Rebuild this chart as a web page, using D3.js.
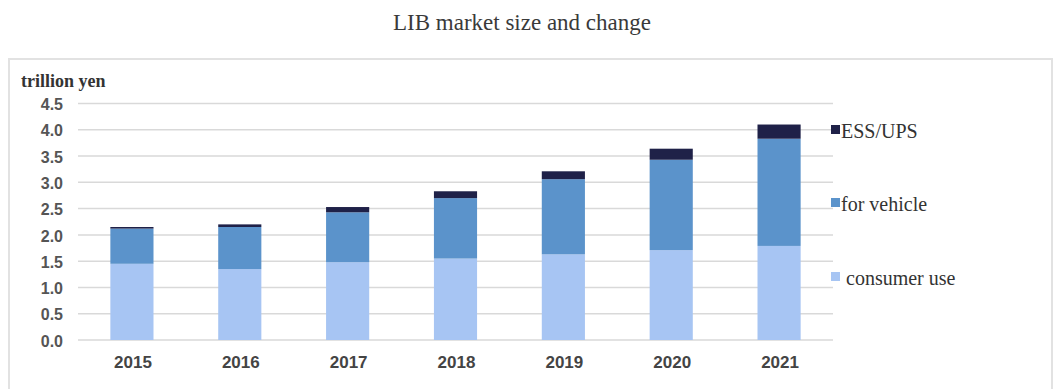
<!DOCTYPE html>
<html>
<head>
<meta charset="utf-8">
<script src="https://cdn.jsdelivr.net/npm/d3@7"></script>
<style>
  html, body { margin: 0; padding: 0; background: #ffffff; }
  svg { display: block; }
</style>
</head>
<body>
<svg id="chart" width="1054" height="389"></svg>
<script>
// LIB market size by application, trillion yen
const years = ["2015", "2016", "2017", "2018", "2019", "2020", "2021"];
const consumerUse = [1.45, 1.35, 1.48, 1.55, 1.63, 1.71, 1.79];
const forVehicle  = [0.67, 0.80, 0.95, 1.15, 1.43, 1.72, 2.04];
const essUps      = [0.03, 0.05, 0.10, 0.13, 0.15, 0.21, 0.27];
const yTicks = [0, 0.5, 1.0, 1.5, 2.0, 2.5, 3.0, 3.5, 4.0, 4.5];

const seriesKeys = ["consumer", "vehicle", "ess"];
const seriesNames = { consumer: " consumer use", vehicle: "for vehicle", ess: "ESS/UPS" };
const seriesColors = { consumer: "#a7c5f3", vehicle: "#5b93cb", ess: "#1f2148" };

const rows = years.map((y, i) => ({
  year: y, consumer: consumerUse[i], vehicle: forVehicle[i], ess: essUps[i]
}));

const svg = d3.select("#chart");

// outer frame
svg.append("rect")
  .attr("x", 9).attr("y", 59).attr("width", 1043).attr("height", 340)
  .attr("fill", "none").attr("stroke", "#e2e2e2").attr("stroke-width", 2);

// title
svg.append("text")
  .attr("x", 522).attr("y", 30)
  .attr("text-anchor", "middle")
  .attr("font-family", "Liberation Serif, serif")
  .attr("font-size", 23)
  .attr("fill", "#3a3a3a")
  .text("LIB market size and change");

const x = d3.scaleBand().domain(years).range([78, 833]).paddingInner(0.6).paddingOuter(0.3);
const y = d3.scaleLinear().domain([0, 4.5]).range([340, 103.5]);

// gridlines
svg.append("g")
  .selectAll("line")
  .data(yTicks)
  .join("line")
  .attr("x1", 78).attr("x2", 833)
  .attr("y1", d => y(d)).attr("y2", d => y(d))
  .attr("stroke", "#d9d9d9").attr("stroke-width", 1.5);

// y axis labels
const yAxis = d3.axisLeft(y).tickValues(yTicks).tickFormat(d3.format(".1f")).tickSize(0).tickPadding(0);
const gy = svg.append("g").attr("transform", "translate(63,1)").call(yAxis);
gy.select(".domain").remove();
gy.selectAll("text")
  .attr("font-family", "Liberation Sans, Arial, sans-serif")
  .attr("font-size", 16)
  .attr("font-weight", "bold")
  .attr("fill", "#555");

// axis unit
svg.append("text")
  .attr("x", 21).attr("y", 87)
  .attr("font-family", "Liberation Serif, serif")
  .attr("font-size", 18)
  .attr("font-weight", "bold")
  .attr("fill", "#333")
  .text("trillion yen");

// stacked bars
const stacked = d3.stack().keys(seriesKeys)(rows);
svg.append("g")
  .selectAll("g")
  .data(stacked)
  .join("g")
  .attr("fill", d => seriesColors[d.key])
  .selectAll("rect")
  .data(d => d)
  .join("rect")
  .attr("x", d => x(d.data.year))
  .attr("width", x.bandwidth())
  .attr("y", d => y(d[1]))
  .attr("height", d => y(d[0]) - y(d[1]));

// x axis labels
const xAxis = d3.axisBottom(x).tickSize(0).tickPadding(0);
const gx = svg.append("g").attr("transform", "translate(1,356)").call(xAxis);
gx.select(".domain").remove();
gx.selectAll("text")
  .attr("font-family", "Liberation Sans, Arial, sans-serif")
  .attr("font-size", 17)
  .attr("font-weight", "bold")
  .attr("fill", "#444");

// legend
const legendBase = { ess: 138, vehicle: 211, consumer: 285 };
const legend = svg.append("g")
  .selectAll("g")
  .data(seriesKeys)
  .join("g")
  .attr("transform", d => `translate(831,${legendBase[d]})`);
legend.append("rect")
  .attr("x", 0).attr("y", -13).attr("width", 9).attr("height", 9)
  .attr("fill", d => seriesColors[d]);
legend.append("text")
  .attr("x", 10).attr("y", 0)
  .attr("font-family", "Liberation Serif, serif")
  .attr("font-size", 20)
  .attr("fill", "#333")
  .attr("xml:space", "preserve")
  .style("white-space", "pre")
  .text(d => seriesNames[d]);
</script>
</body>
</html>
